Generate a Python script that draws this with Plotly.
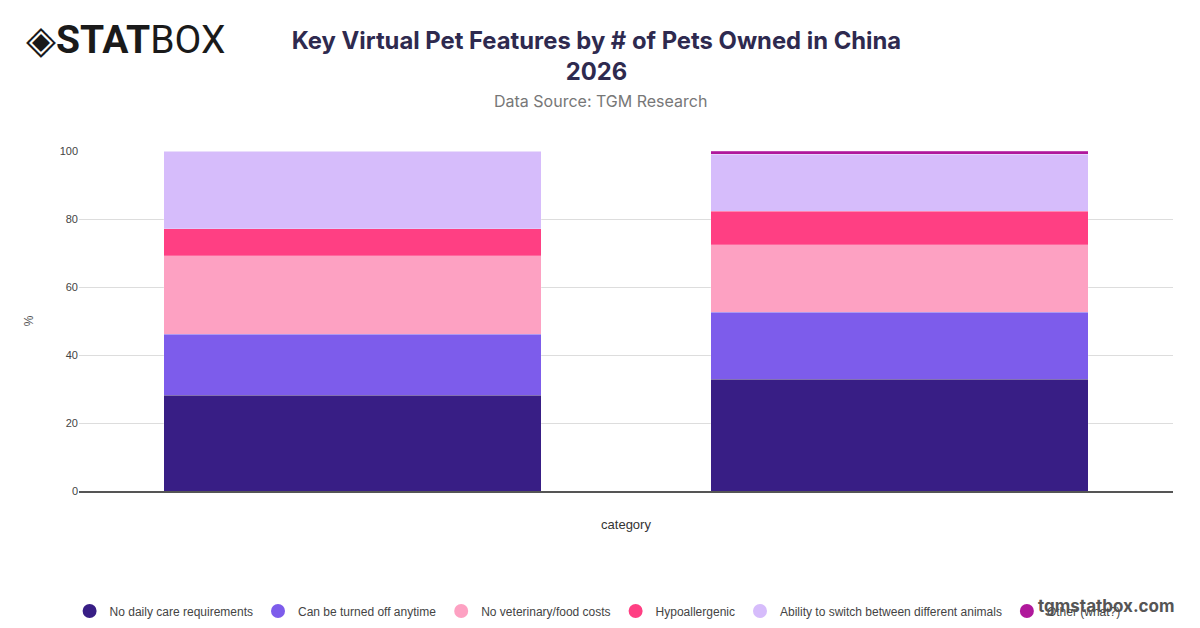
import plotly.graph_objects as go

categories = ["1 pet", "2+ pets"]
series_names = [
    "No daily care requirements",
    "Can be turned off anytime",
    "No veterinary/food costs",
    "Hypoallergenic",
    "Ability to switch between different animals",
    "Other (what?)",
]
values = [
    [28.1, 32.8],
    [18.0, 19.8],
    [23.1, 19.8],
    [7.9, 9.9],
    [22.9, 16.8],
    [0.0, 0.9],
]
colors = ["#381E85", "#7D5CEB", "#FDA1C2", "#FF3F83", "#D6BCFB", "#B0189B"]
y_ticks = [0, 20, 40, 60, 80, 100]

# plot-area geometry in pixels (for placing text in paper coords)
L, R, T, B = 79, 1173, 151, 491


def px(x):
    return (x - L) / (R - L)


def py(y):
    return (B - y) / (B - T)


fig = go.Figure()
for name, vals, col in zip(series_names, values, colors):
    fig.add_trace(go.Bar(
        x=categories, y=vals, name=name, showlegend=False,
        marker=dict(color=col, line=dict(color="rgba(255,255,255,0.35)", width=0.6)),
    ))
for name, col in zip(series_names, colors):
    fig.add_trace(go.Scatter(
        x=[None], y=[None], mode="markers", name=name,
        marker=dict(color=col, size=14, symbol="circle"),
    ))

fig.update_layout(
    width=1200, height=628,
    barmode="stack", bargap=0.31,
    plot_bgcolor="white", paper_bgcolor="white",
    margin=dict(l=L, r=1200 - R, t=T, b=628 - B, autoexpand=False),
    font=dict(family="Liberation Sans, Arial, sans-serif", color="#444"),
    title=dict(
        text="<b>Key Virtual Pet Features by # of Pets Owned in China<br>2026</b>",
        x=0.497, xref="container", xanchor="center",
        y=1 - 49 / 628, yref="container", yanchor="middle",
        font=dict(size=23.8, color="#2E2A4F", family="Inter, Roboto, sans-serif"),
    ),
    xaxis=dict(
        showticklabels=False, showgrid=False,
        showline=True, linecolor="#555", linewidth=1.5,
        title=dict(text="category", font=dict(size=13, color="#333"), standoff=28),
    ),
    yaxis=dict(
        range=[0, 100], tickvals=y_ticks, showgrid=True, gridcolor="#dddddd",
        zeroline=False, tickfont=dict(size=11, color="#444"),
        title=dict(text="%", font=dict(size=12, color="#555"), standoff=23),
    ),
    legend=dict(
        orientation="h", xref="container", yref="container",
        x=0.058, y=1 - 611 / 628, xanchor="left", yanchor="middle",
        font=dict(size=12, color="#444"), traceorder="normal",
        tracegroupgap=0,
    ),
    annotations=[
        dict(text="Data Source: TGM Research", xref="paper", yref="paper",
             x=px(600), xanchor="center", y=py(101), yanchor="middle",
             showarrow=False, font=dict(size=16, color="#777", family="Inter, Roboto, sans-serif")),
        dict(text="◈<b>STAT</b>BOX", xref="paper", yref="paper",
             x=px(24), xanchor="left", y=py(40), yanchor="middle",
             showarrow=False, font=dict(size=39, color="#1a1a1a", family="Roboto, sans-serif")),
        dict(text="<b>tgmstatbox.com</b>", xref="paper", yref="paper",
             x=px(1177), xanchor="right", y=py(606), yanchor="middle",
             showarrow=False, font=dict(size=17, color="#555", family="Inter, Roboto, sans-serif")),
    ],
)

fig.write_html(
    "out.html",
    config={"displayModeBar": False},
    post_script="document.body.style.margin='0';document.body.style.overflow='hidden';",
)
